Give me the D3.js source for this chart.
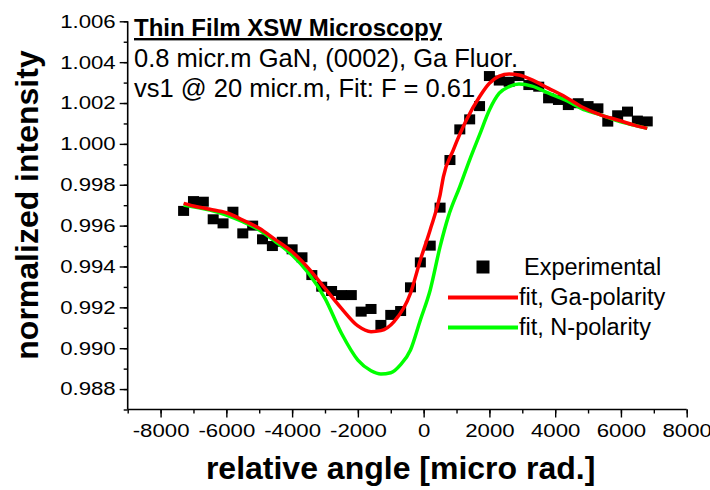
<!DOCTYPE html>
<html><head><meta charset="utf-8">
<script src="https://cdn.jsdelivr.net/npm/d3@7"></script>
<style>body{margin:0;background:#fff}svg{display:block}text{font-family:"Liberation Sans",Arial,sans-serif}</style>
</head><body><svg id="c" width="710" height="490"></svg>
<script>
// Experimental data (angle in micro rad, normalized intensity)
const expX = [-7300,-7000,-6700,-6400,-6100,-5800,-5500,-5200,-4900,-4600,-4300,-4000,-3700,-3400,-3100,-2800,-2500,-2200,-1900,-1600,-1300,-1000,-700,-400,-100,200,500,800,1100,1400,1700,2000,2300,2600,2900,3200,3500,3800,4100,4400,4700,5000,5300,5600,5900,6200,6500,6800];
const expY = [0.99672,0.99720,0.99717,0.99631,0.99611,0.99668,0.99562,0.99600,0.99533,0.99500,0.99521,0.99484,0.99445,0.99358,0.99301,0.99280,0.99260,0.99260,0.99179,0.99192,0.99114,0.99163,0.99182,0.99298,0.99420,0.99502,0.99688,0.99921,1.00071,1.00120,1.00185,1.00332,1.00310,1.00304,1.00332,1.00288,1.00280,1.00223,1.00215,1.00190,1.00199,1.00185,1.00174,1.00109,1.00140,1.00158,1.00114,1.00110];
// Fit, Ga-polarity
const gaX = [-7300,-7000,-6500,-6000,-5500,-5000,-4500,-4000,-3500,-3000,-2500,-2000,-1600,-1300,-900,-400,-100,200,500,600,900,1300,1700,2000,2300,2600,2900,3300,3800,4300,4800,5400,5900,6400,6800];
const gaY = [0.99709,0.99696,0.99680,0.99663,0.99627,0.99587,0.99530,0.99472,0.99391,0.99293,0.99195,0.99109,0.99081,0.99086,0.99130,0.99269,0.99432,0.99580,0.99750,0.99839,0.99970,1.00117,1.00231,1.00297,1.00332,1.00342,1.00337,1.00313,1.00272,1.00231,1.00182,1.00141,1.00117,1.00092,1.00076];
// Fit, N-polarity
const nX = [-7300,-6500,-6000,-5500,-5000,-4500,-4000,-3500,-3000,-2500,-2000,-1600,-1300,-1000,-700,-400,-100,200,500,750,1100,1400,1700,2000,2300,2600,2900,3300,3800,4300,4900,5400,5900,6400,6800];
const nY = [0.99701,0.99676,0.99652,0.99619,0.99579,0.99521,0.99456,0.99367,0.99244,0.99073,0.98942,0.98890,0.98874,0.98880,0.98920,0.98991,0.99138,0.99285,0.99497,0.99644,0.99791,0.99922,1.00044,1.00166,1.00248,1.00280,1.00293,1.00283,1.00248,1.00215,1.00166,1.00141,1.00113,1.00092,1.00076];
const xTicks = [-8000,-6000,-4000,-2000,0,2000,4000,6000,8000];
const yTicks = [0.988,0.990,0.992,0.994,0.996,0.998,1.000,1.002,1.004,1.006];
const titleLines = ["Thin Film XSW Microscopy","0.8 micr.m GaN, (0002), Ga Fluor.","vs1 @ 20 micr.m, Fit: F = 0.61"];
const legendLabels = ["Experimental","fit, Ga-polarity","fit, N-polarity"];
const colors = {exp:"#000000", ga:"#ff0000", n:"#00ff00"};

const svg = d3.select("#c");
const x = d3.scaleLinear().domain([-9000,8000]).range([127.7,686.7]);
const y = d3.scaleLinear().domain([0.987,1.006]).range([409.5,21.3]);

function stretch(sel, sx){
  sel.each(function(){const w=this.getComputedTextLength();d3.select(this).attr("textLength",w*sx).attr("lengthAdjust","spacingAndGlyphs");});
}

// X axis
const xMinor = d3.range(-9000,8001,1000);
const gx = svg.append("g").attr("transform",`translate(0,${y(0.987)})`);
gx.call(d3.axisBottom(x).tickValues(xMinor).tickSize(4).tickFormat(""));
gx.append("g").call(d3.axisBottom(x).tickValues(xTicks).tickSize(8).tickFormat(d=>String(d)));
gx.selectAll("path").attr("stroke","#000").attr("stroke-width",1.6);
gx.selectAll("line").attr("stroke","#000").attr("stroke-width",1.4);
gx.selectAll("text").attr("font-size",18.5).attr("fill","#000").attr("y",14).attr("dy","0.71em").call(stretch,1.2);
gx.selectAll("path").filter((d,i)=>i>0).remove();

// Y axis
const yMinor = d3.range(0,20).map(i=>0.987+i*0.001);
const gy = svg.append("g").attr("transform",`translate(${x(-9000)},0)`);
gy.call(d3.axisLeft(y).tickValues(yMinor).tickSize(4).tickFormat(""));
gy.append("g").call(d3.axisLeft(y).tickValues(yTicks).tickSize(8).tickFormat(d3.format(".3f")));
gy.selectAll("path").attr("stroke","#000").attr("stroke-width",1.6);
gy.selectAll("line").attr("stroke","#000").attr("stroke-width",1.4);
gy.selectAll("text").attr("font-size",18.5).attr("fill","#000").attr("x",-12).call(stretch,1.2);
gy.selectAll("path").filter((d,i)=>i>0).remove();
gy.selectAll("path").attr("d",`M0,${y(0.987)}V${y(1.006)}`);
gx.selectAll("path").attr("d",`M${x(-9000)},0H${x(8000)}`);

// Axis titles
svg.append("text").attr("x",x(-700)).attr("y",479).attr("text-anchor","middle")
  .attr("font-size",32).attr("font-weight","bold").text("relative angle [micro rad.]");
svg.append("text").attr("transform","translate(38,205) rotate(-90)").attr("text-anchor","middle")
  .attr("font-size",32).attr("font-weight","bold").text("normalized intensity");

// Data squares
const expData = expX.map((v,i)=>[v,expY[i]]);
svg.append("g").selectAll("rect").data(expData).join("rect")
  .attr("x",d=>x(d[0])-5.5).attr("y",d=>y(d[1])-5).attr("width",11).attr("height",10).attr("fill",colors.exp);

// Fit lines
const line = d3.line().x(d=>x(d[0])).y(d=>y(d[1])).curve(d3.curveMonotoneX);
svg.append("path").datum(nX.map((v,i)=>[v,nY[i]])).attr("d",line).attr("fill","none").attr("stroke",colors.n).attr("stroke-width",3.5);
svg.append("path").datum(gaX.map((v,i)=>[v,gaY[i]])).attr("d",line).attr("fill","none").attr("stroke",colors.ga).attr("stroke-width",3.5);

// Title block
svg.append("text").attr("x",134).attr("y",36).attr("font-size",24).attr("font-weight","bold").attr("text-decoration","underline").text(titleLines[0]);
svg.append("text").attr("x",134).attr("y",67).attr("font-size",25.5).text(titleLines[1]);
svg.append("text").attr("x",134).attr("y",97).attr("font-size",25.5).text(titleLines[2]);

// Legend
const lg = svg.append("g");
lg.append("rect").attr("x",476.5).attr("y",260.5).attr("width",13).attr("height",13).attr("fill",colors.exp);
lg.append("line").attr("x1",448).attr("x2",518).attr("y1",297.5).attr("y2",297.5).attr("stroke",colors.ga).attr("stroke-width",4);
lg.append("line").attr("x1",448).attr("x2",518).attr("y1",327.5).attr("y2",327.5).attr("stroke",colors.n).attr("stroke-width",4);
lg.selectAll("text.l").data(legendLabels).join("text").attr("class","l")
  .attr("x",(d,i)=>i===0?524:519).attr("y",(d,i)=>275+i*30).attr("font-size",23.5).text(d=>d);
</script></body></html>
